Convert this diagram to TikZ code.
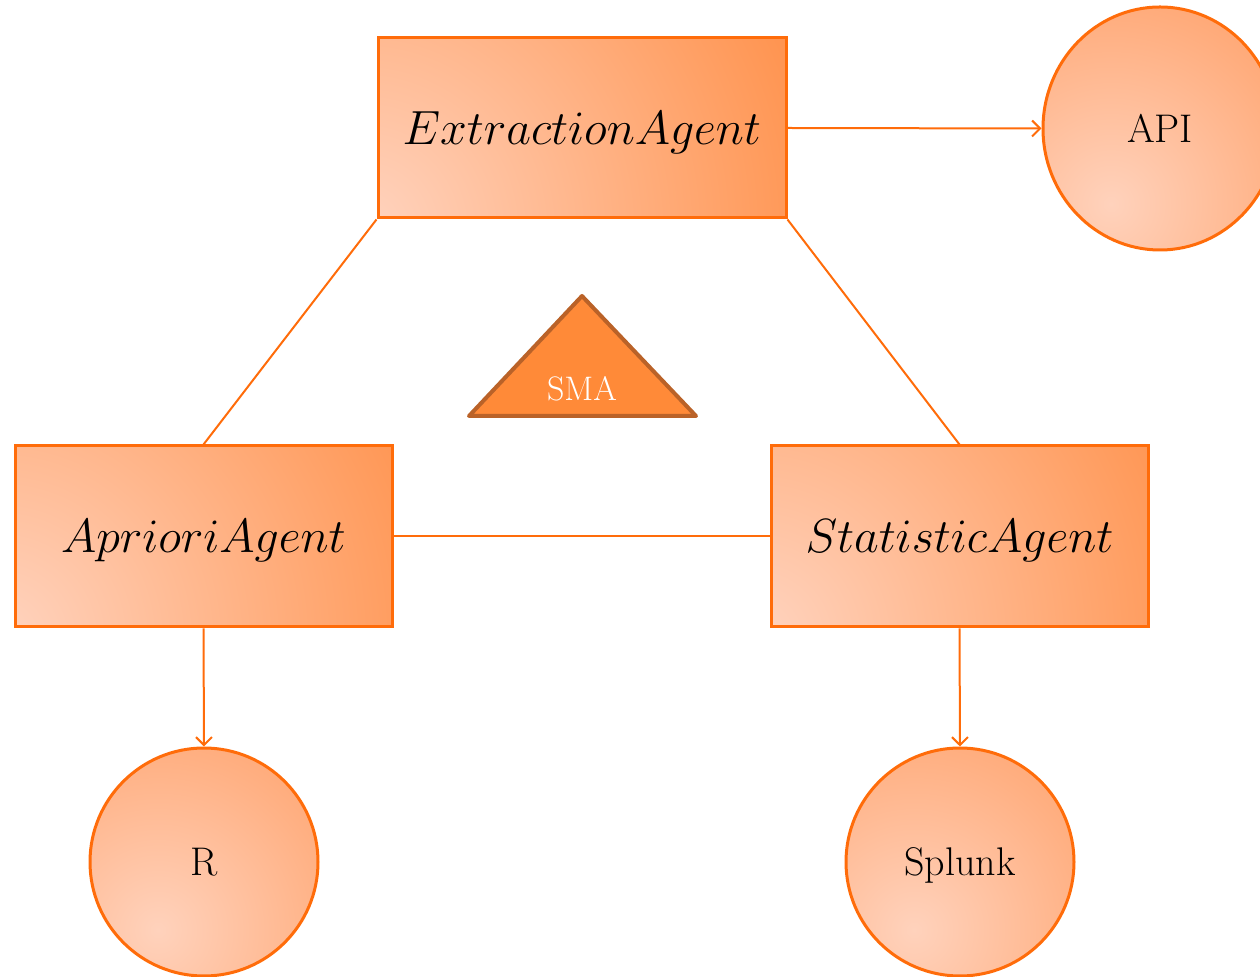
\documentclass[tikz,border=0pt]{standalone}
\usepackage{fix-cm}
\usetikzlibrary{arrows.meta,shapes.geometric}

\definecolor{edge}{RGB}{255,108,10}
\definecolor{boxlight}{RGB}{255,212,192}
\definecolor{boxdark}{RGB}{255,132,52}
\definecolor{dotlight}{RGB}{255,210,188}
\definecolor{dotdark}{RGB}{255,148,84}
\definecolor{trifill}{RGB}{255,138,56}
\definecolor{triline}{RGB}{186,98,40}

\begin{document}
\begin{tikzpicture}[x=0.5pt,y=-0.5pt,
  agent/.style={rectangle, draw=edge, line width=1.5pt, inner sep=0pt,
    text depth=0pt, font=\fontsize{24}{28}\selectfont,
    path picture={\shade[inner color=boxlight, outer color=boxdark]
      ([xshift=-8pt,yshift=-6pt]path picture bounding box.south west) circle (290pt);}},
  tool/.style={ellipse, draw=edge, line width=1.5pt, inner sep=0pt,
    text depth=0pt, font=\fontsize{20}{24}\selectfont,
    path picture={\shade[inner color=dotlight, outer color=dotdark]
      ([xshift=34pt,yshift=23pt]path picture bounding box.south west) circle (160pt);}},
  link/.style={draw=edge, line width=1pt},
  feed/.style={link, -{Straight Barb[length=4pt,width=8pt,line width=1pt]}}
]
\clip (0,0) rectangle (1260,977);

% agents
\node[agent, minimum width=204pt, minimum height=90pt]   (ext) at (582,128)   {$ExtractionAgent$};
\node[agent, minimum width=188.5pt, minimum height=90.5pt] (apr) at (203.5,536.5) {$AprioriAgent$};
\node[agent, minimum width=188.5pt, minimum height=90.5pt] (sta) at (959.5,536.5) {$StatisticAgent$};

% tools
\node[tool, minimum width=117pt, minimum height=121.5pt] (api) at (1160,128.5) {API};
\node[tool, minimum width=114pt, minimum height=114pt]   (r)   at (204,862)    {R};
\node[tool, minimum width=114pt, minimum height=114pt]   (spl) at (960,862)    {Splunk};

% SMA marker
\coordinate (tA) at (582,296);
\coordinate (tB) at (469,416);
\coordinate (tC) at (696,416);
\draw[draw=triline, fill=trifill, line width=2pt, line join=round] (tA) -- (tB) -- (tC) -- cycle;
\node[text=white, text depth=0pt, font=\fontsize{17}{20}\selectfont] (sma) at (582,388) {SMA};

% connections between agents
\draw[link] (ext.south west) -- (apr.north);
\draw[link] (ext.south east) -- (sta.north);
\draw[link] (apr.east) -- (sta.west);

% agent to tool arrows
\draw[feed] (ext.east) -- (api.west);
\draw[feed] (apr.south) -- (r.north);
\draw[feed] (sta.south) -- (spl.north);
\end{tikzpicture}
\end{document}
